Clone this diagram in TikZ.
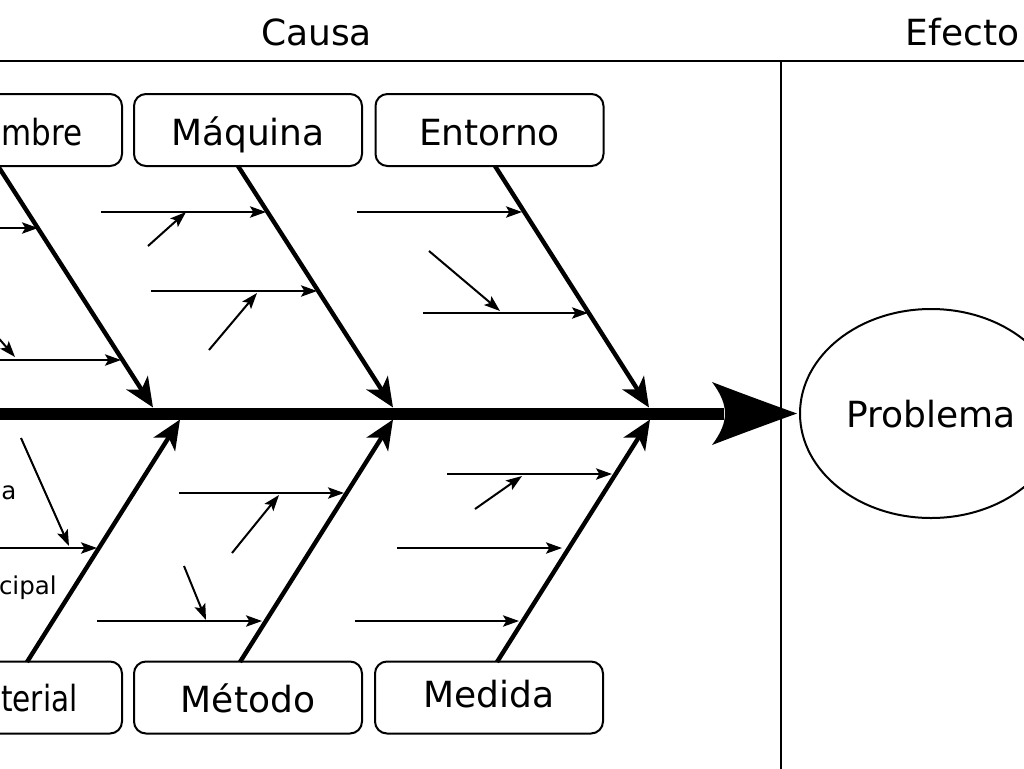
\documentclass[tikz,border=0pt]{standalone}
\usepackage{fontspec}
\setmainfont{DejaVu Sans}
\usetikzlibrary{arrows.meta,shapes.geometric}
\begin{document}
\begin{tikzpicture}[x=0.75pt,y=-0.75pt,
  big/.style={font=\fontsize{27}{32}\selectfont},
  small/.style={font=\fontsize{18.4}{22}\selectfont},
  cbox/.style={draw, line width=1.5pt, rounded corners=9pt, minimum width=171pt,
    minimum height=54pt, inner sep=0pt, big, text height=26pt, text depth=3.5pt},
  bone/.style={line width=3.3pt, -{Stealth[length=22pt,width=19pt,inset=6pt]}},
  sub/.style={line width=1.5pt, -{Stealth[length=12pt,width=8.5pt,inset=2.5pt]}},
  frame/.style={line width=1.9pt}
]
\useasboundingbox (0,0) rectangle (1024,768);
\clip (0,0) rectangle (1024,768);

% header
\node[big, anchor=base, inner sep=0pt] (causa) at (316.5,45) {Causa};
\node[big, anchor=base, inner sep=0pt] (efecto) at (962.5,45) {Efecto};
\coordinate (hl) at (-5,61);
\coordinate (hr) at (1030,61);
\coordinate (vt) at (781,61);
\coordinate (vb) at (781,775);
\draw[frame] (hl) -- (hr);
\draw[frame] (vt) -- (vb);

% boxes
\node[cbox] (hombre) at (8,130) {};
\node[big, anchor=base west, inner sep=0pt] (hombret) at (1,145) {\scalebox{0.86}[1]{mbre}};
\node[cbox] (maquina) at (248,130) {Máquina};
\node[cbox] (entorno) at (489.5,130) {Entorno};
\node[cbox] (material) at (8,697.5) {};
\node[big, anchor=base west, inner sep=0pt] (materialt) at (1,711) {\scalebox{0.82}[1]{terial}};
\node[cbox] (metodo) at (248,697.5) {Método};
\node[cbox] (medida) at (489,697.5) {\raisebox{4pt}{Medida}};

% effect
\node[draw, ellipse, line width=1.5pt, minimum width=196.5pt, minimum height=156.75pt,
  big, text height=21.5pt, text depth=1.25pt] (prob) at (931,413.5) {Problema};

% spine
\coordinate (spL) at (-10,413.5);
\coordinate (spH) at (724,413.5);
\coordinate (spT) at (797,413.5);
\draw[line width=9pt] (spL) -- (spH);
\fill (spT) .. controls (765,402) and (738,392) .. (712,382)
  .. controls (721,394) and (725,404) .. (725,413.5)
  .. controls (725,423) and (721,433) .. (712,445)
  .. controls (738,435) and (765,425) .. (spT) -- cycle;

% bones
\coordinate (hT) at (-2,166);   \coordinate (hE) at (153,407.5);
\coordinate (mT) at (238,166);  \coordinate (mE) at (393,407.5);
\coordinate (eT) at (495,166);  \coordinate (eE) at (649,407.5);
\coordinate (maB) at (27,662);  \coordinate (maE) at (180,419.5);
\coordinate (meB) at (240,662); \coordinate (meE) at (393,419.5);
\coordinate (mdB) at (497,662); \coordinate (mdE) at (650,419.5);
\draw[bone] (hT) -- (hE);
\draw[bone] (mT) -- (mE);
\draw[bone] (eT) -- (eE);
\draw[bone] (maB) -- (maE);
\draw[bone] (meB) -- (meE);
\draw[bone] (mdB) -- (mdE);

% Hombre causes
\coordinate (h1s) at (-5,228);  \coordinate (h1e) at (38,228);
\coordinate (h2s) at (-5,360);  \coordinate (h2e) at (121,360);
\coordinate (h3s) at (-12,326); \coordinate (h3e) at (15,357);
\draw[sub] (h1s) -- (h1e);
\draw[sub] (h2s) -- (h2e);
\draw[sub] (h3s) -- (h3e);

% Maquina causes
\coordinate (m1s) at (101,212); \coordinate (m1e) at (266,212);
\coordinate (m2s) at (148,246); \coordinate (m2e) at (186,212);
\coordinate (m3s) at (151,291); \coordinate (m3e) at (317,291);
\coordinate (m4s) at (209,350); \coordinate (m4e) at (257,293);
\draw[sub] (m1s) -- (m1e);
\draw[sub] (m2s) -- (m2e);
\draw[sub] (m3s) -- (m3e);
\draw[sub] (m4s) -- (m4e);

% Entorno causes
\coordinate (e1s) at (357,212); \coordinate (e1e) at (522,212);
\coordinate (e2s) at (423,313); \coordinate (e2e) at (588,313);
\coordinate (e3s) at (429,251); \coordinate (e3e) at (500,311);
\draw[sub] (e1s) -- (e1e);
\draw[sub] (e2s) -- (e2e);
\draw[sub] (e3s) -- (e3e);

% Material causes
\coordinate (a1s) at (-5,548);  \coordinate (a1e) at (97,548);
\coordinate (a2s) at (21,438);  \coordinate (a2e) at (69,546);
\draw[sub] (a1s) -- (a1e);
\draw[sub] (a2s) -- (a2e);
\node[small, anchor=base west, inner sep=0pt] (lsec) at (1,499) {a};
\node[small, anchor=base east, inner sep=0pt] (lpri) at (57,594) {cipal};

% Metodo causes
\coordinate (t1s) at (179,493); \coordinate (t1e) at (344,493);
\coordinate (t2s) at (232,553); \coordinate (t2e) at (279,495);
\coordinate (t3s) at (97,621);  \coordinate (t3e) at (262,621);
\coordinate (t4s) at (184,566); \coordinate (t4e) at (206,620);
\draw[sub] (t1s) -- (t1e);
\draw[sub] (t2s) -- (t2e);
\draw[sub] (t3s) -- (t3e);
\draw[sub] (t4s) -- (t4e);

% Medida causes
\coordinate (d1s) at (447,474); \coordinate (d1e) at (612,474);
\coordinate (d2s) at (475,509); \coordinate (d2e) at (522,476);
\coordinate (d3s) at (397,548); \coordinate (d3e) at (562,548);
\coordinate (d4s) at (355,621); \coordinate (d4e) at (519,621);
\draw[sub] (d1s) -- (d1e);
\draw[sub] (d2s) -- (d2e);
\draw[sub] (d3s) -- (d3e);
\draw[sub] (d4s) -- (d4e);
\end{tikzpicture}
\end{document}
